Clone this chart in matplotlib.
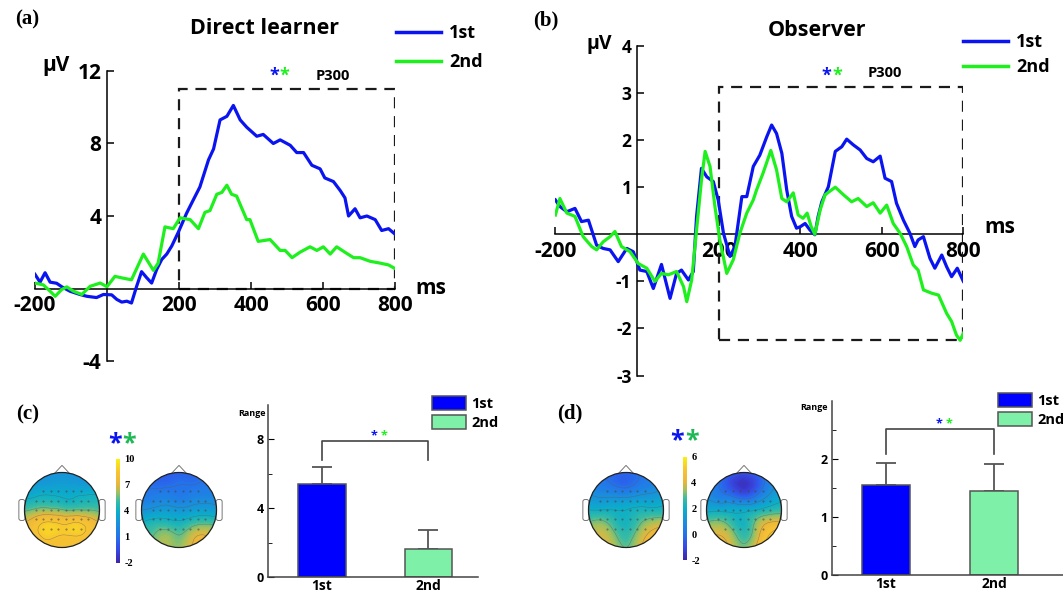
import matplotlib
matplotlib.use('Agg')
import matplotlib.pyplot as plt
import matplotlib.tri as mtri
from matplotlib.colors import LinearSegmentedColormap, Normalize
from matplotlib.cm import ScalarMappable
from matplotlib.patches import Circle, Polygon, FancyBboxPatch, Patch, Rectangle
from matplotlib.lines import Line2D
import numpy as np

plt.rcParams['font.family'] = ['Open Sans', 'DejaVu Sans']
plt.rcParams['font.weight'] = 'bold'
plt.rcParams['axes.linewidth'] = 1.1
plt.rcParams['axes.unicode_minus'] = False

W, H = 1063, 593

# ---- ERP waveforms (ms, microvolts) ----
a_first_t = [-200, -186, -172, -158, -140, -126, -103, -75, -56, -29, -10, 13, 27, 41, 55, 68, 82, 96,
             110, 124, 138, 152, 166, 180, 198, 221, 240, 258, 282, 296, 314, 333, 351, 370, 388, 416,
             434, 462, 481, 509, 527, 546, 569, 592, 605, 629, 648, 661, 671, 689, 703, 722, 745, 763,
             782, 800]
a_first_v = [0.78, 0.35, 0.87, 0.35, 0.29, 0.1, -0.15, -0.33, -0.43, -0.5, -0.33, -0.35, -0.6, -0.75,
             -0.7, -0.8, 0.1, 0.93, 0.6, 0.3, 1.05, 1.6, 1.9, 2.35, 3.1, 4.15, 4.9, 5.6, 7.1, 7.7, 9.3,
             9.5, 10.1, 9.3, 8.9, 8.4, 8.5, 8.0, 8.2, 7.9, 7.5, 7.5, 6.8, 6.6, 6.1, 5.9, 5.4, 5.0, 4.0,
             4.4, 3.9, 4.0, 3.8, 3.2, 3.3, 3.0]
a_second_t = [-200, -177, -158, -144, -126, -112, -93, -70, -47, -19, 0, 22, 45, 68, 101, 129, 142,
              161, 184, 203, 231, 254, 272, 286, 305, 319, 333, 346, 360, 388, 397, 420, 453, 481, 495,
              514, 536, 564, 583, 601, 620, 638, 661, 685, 703, 731, 759, 782, 800]
a_second_v = [0.3, 0.2, -0.15, -0.43, -0.06, 0.09, -0.15, -0.33, 0.12, 0.3, 0.1, 0.67, 0.57, 0.48, 1.9,
              1.0, 1.4, 3.4, 3.3, 3.9, 3.8, 3.3, 4.2, 4.3, 5.2, 5.3, 5.7, 5.2, 5.1, 3.8, 3.8, 2.6, 2.7,
              2.1, 2.1, 1.7, 2.0, 2.3, 2.1, 2.3, 1.9, 2.3, 2.0, 1.7, 1.7, 1.5, 1.4, 1.3, 1.1]

b_first_t = [-200, -189, -172, -152, -136, -119, -99, -83, -66, -46, -25, -9, 7, 24, 40, 60, 81, 97, 109,
             126, 138, 146, 158, 171, 187, 199, 212, 228, 240, 257, 269, 285, 301, 318, 330, 342, 355,
             367, 379, 391, 400, 412, 424, 436, 444, 453, 469, 486, 502, 514, 530, 547, 563, 579, 596,
             608, 624, 636, 653, 669, 681, 689, 702, 718, 730, 747, 759, 771, 785, 800]
b_first_v = [0.73, 0.59, 0.48, 0.55, 0.27, 0.3, -0.23, -0.3, -0.33, -0.58, -0.3, -0.37, -0.76, -0.79,
             -1.15, -0.64, -1.36, -0.83, -0.76, -0.97, -0.79, 0.38, 1.4, 1.22, 1.12, 0.73, 0.02, -0.47,
             -0.26, 0.8, 0.8, 1.44, 1.68, 2.07, 2.32, 2.14, 1.72, 0.94, 0.38, 0.13, 0.16, 0.23, 0.09,
             -0.01, 0.38, 0.69, 1.01, 1.76, 1.86, 2.02, 1.9, 1.79, 1.61, 1.54, 1.66, 1.19, 1.12, 0.66,
             0.3, 0.02, -0.26, -0.12, -0.05, -0.51, -0.72, -0.44, -0.69, -0.9, -0.72, -1.0]
b_second_t = [-200, -189, -172, -152, -132, -111, -99, -83, -66, -54, -38, -17, 3, 24, 44, 60, 77, 97,
              114, 122, 134, 146, 158, 167, 179, 191, 203, 220, 236, 252, 269, 285, 293, 309, 328, 342,
              355, 367, 383, 395, 407, 417, 427, 436, 449, 461, 486, 506, 526, 542, 563, 579, 596, 612,
              628, 645, 661, 677, 689, 702, 722, 739, 759, 771, 783, 792, 800]
b_second_v = [0.41, 0.76, 0.45, 0.38, -0.05, -0.26, -0.33, -0.16, -0.05, 0.06, -0.26, -0.37, -0.62,
              -0.72, -1.0, -0.83, -0.86, -0.79, -1.11, -1.43, -0.97, 0.09, 1.15, 1.76, 1.44, 0.59, -0.12,
              -0.83, -0.54, 0.02, 0.45, 0.73, 0.94, 1.3, 1.78, 1.37, 0.76, 0.69, 0.88, 0.41, 0.34, 0.45,
              0.16, 0.0, 0.52, 0.84, 1.0, 0.84, 0.69, 0.76, 0.59, 0.67, 0.45, 0.62, 0.23, 0.02, -0.26,
              -0.65, -0.76, -1.18, -1.25, -1.29, -1.68, -1.85, -2.14, -2.25, -2.1]

# ---- bar charts ----
bar_labels = ['1st', '2nd']
c_means = [5.4, 1.65]
c_errs = [1.0, 1.1]
d_means = [1.56, 1.45]
d_errs = [0.37, 0.47]

# ---- scalp maps (front row first, left to right) ----
c_topo_1st = [[2.4, 2.5, 2.6, 2.7, 2.6, 2.5, 2.4],
              [2.8, 3.0, 3.1, 3.2, 3.1, 3.0, 2.9],
              [3.8, 4.1, 4.2, 4.0, 4.0, 4.2, 4.2],
              [5.3, 5.8, 5.9, 5.6, 5.5, 5.5, 5.3],
              [7.0, 8.0, 8.6, 8.3, 8.5, 8.0, 7.0],
              [7.5, 8.3, 8.8, 8.5, 8.6, 8.2, 7.5],
              [7.6, 8.0, 8.2, 8.0, 8.0, 7.8, 7.6]]
c_topo_2nd = [[0.5, 0.2, 0.0, 0.3, 0.5, 0.8, 1.0],
              [1.0, 0.8, 0.8, 1.0, 1.0, 1.2, 1.3],
              [1.5, 1.6, 1.8, 1.5, 1.8, 2.0, 2.0],
              [2.5, 2.8, 3.0, 2.8, 3.0, 3.2, 3.0],
              [4.0, 4.5, 4.5, 4.2, 4.8, 5.2, 5.0],
              [5.0, 5.5, 6.0, 5.5, 6.5, 7.0, 6.5],
              [5.5, 6.0, 6.2, 6.0, 7.0, 7.2, 6.8]]
d_topo_1st = [[0.5, 0.2, -0.2, -0.3, 0.0, 0.3, 0.6],
              [0.7, 0.3, 0.0, -0.2, 0.2, 0.5, 0.8],
              [1.2, 1.0, 1.0, 1.0, 1.2, 1.3, 1.5],
              [2.0, 2.0, 2.0, 2.0, 2.2, 2.2, 2.3],
              [3.0, 3.2, 2.6, 2.2, 2.8, 3.4, 3.6],
              [3.6, 3.8, 3.2, 2.6, 3.4, 4.2, 4.6],
              [3.8, 4.0, 3.6, 3.0, 3.8, 4.6, 5.0]]
d_topo_2nd = [[0.5, 0.0, -0.5, -0.8, -0.3, 0.5, 1.0],
              [0.7, 0.0, -1.0, -1.6, -0.8, 0.5, 1.3],
              [1.0, 0.5, 0.2, -0.3, 0.3, 1.2, 1.8],
              [1.8, 1.8, 1.8, 1.8, 2.0, 2.4, 2.6],
              [3.0, 3.2, 2.6, 2.2, 3.2, 4.0, 4.2],
              [3.8, 4.0, 3.4, 2.6, 3.6, 5.0, 5.6],
              [4.0, 4.2, 3.8, 3.2, 4.2, 5.6, 6.0]]

BLUE = '#0a14f0'
GREEN = '#1ef01e'
BAR_BLUE = '#0000ff'
BAR_GREEN = '#7ff0a8'
STAR_GREEN = '#1db954'

parula = LinearSegmentedColormap.from_list(
    'parula', [(0.0, '#3d26a8'), (0.13, '#3548e8'), (0.25, '#2472ec'), (0.40, '#1696d8'),
               (0.50, '#0aafc8'), (0.60, '#3cbca0'), (0.68, '#a2c05c'), (0.76, '#eab63a'),
               (0.88, '#f8c431'), (1.0, '#f7f20f')])

fig = plt.figure(figsize=(W / 100, H / 100), dpi=100)


def px_axes(x0, y0, x1, y1):
    return fig.add_axes([x0 / W, 1 - y1 / H, (x1 - x0) / W, (y1 - y0) / H])


def ftext(x, y, s, **kw):
    return fig.text(x / W, 1 - y / H, s, **kw)


def erp_panel(box, ylim, yticks, t1, v1, t2, v2, rect_y, xsize, ysize):
    ax = px_axes(*box)
    ax.plot(t1, v1, color=BLUE, lw=2.3, zorder=3)
    ax.plot(t2, v2, color=GREEN, lw=2.3, zorder=3)
    ax.set_xlim(-200, 800)
    ax.set_ylim(*ylim)
    for s in ['top', 'right']:
        ax.spines[s].set_visible(False)
    ax.spines['left'].set_position(('data', 0))
    ax.spines['bottom'].set_position(('data', 0))
    ax.set_xticks([-200, 200, 400, 600, 800])
    ax.set_yticks(yticks)
    ax.tick_params(axis='x', direction='in', length=5, width=1.1, labelsize=xsize, pad=5)
    ax.tick_params(axis='y', direction='in', length=5, width=1.1, labelsize=ysize, pad=4)
    ax.patch.set_visible(False)
    ax.add_patch(Rectangle((200, rect_y[0]), 600, rect_y[1] - rect_y[0], fill=False,
                           ls=(0, (5, 3.5)), lw=1.6, ec='#1a1a1a', zorder=2))
    return ax


# (a) Direct learner
ax_a = erp_panel((35, 71, 395, 361), (-4, 12), [-4, 4, 8, 12],
                 a_first_t, a_first_v, a_second_t, a_second_v, (0, 11), 15, 15)
ax_a.text(465, 11.75, '*', color=BLUE, fontsize=13, ha='center', va='center')
ax_a.text(493, 11.75, '*', color=GREEN, fontsize=13, ha='center', va='center')
ax_a.text(628, 11.75, 'P300', fontsize=10.5, ha='center', va='center')
ftext(265, 28, 'Direct learner', fontsize=15.5, ha='center', va='center')
ftext(56, 66, 'µV', fontsize=15, ha='center', va='center')
ftext(431, 289, 'ms', fontsize=15, ha='center', va='center')
ftext(27, 19, '(a)', fontsize=15, ha='center', va='center', family='Liberation Serif')
ax_a.legend(handles=[Line2D([], [], color=BLUE, lw=2.5, label='1st'),
                     Line2D([], [], color=GREEN, lw=2.5, label='2nd')],
            loc='upper left', bbox_to_anchor=(396 / W, 1 - 24 / H), bbox_transform=fig.transFigure,
            frameon=False, fontsize=13, handlelength=2.5, handletextpad=0.45,
            labelspacing=0.6, borderpad=0, borderaxespad=0)

# (b) Observer
ax_b = erp_panel((555.4, 45.9, 963.4, 375.6), (-3, 4), [-3, -2, -1, 1, 2, 3, 4],
                 b_first_t, b_first_v, b_second_t, b_second_v, (-2.25, 3.12), 15, 12.5)
ax_b.text(464, 3.36, '*', color=BLUE, fontsize=13, ha='center', va='center')
ax_b.text(490, 3.36, '*', color=GREEN, fontsize=13, ha='center', va='center')
ax_b.text(608, 3.42, 'P300', fontsize=10.5, ha='center', va='center')
ftext(817, 30, 'Observer', fontsize=15.5, ha='center', va='center')
ftext(599, 44, 'µV', fontsize=14, ha='center', va='center')
ftext(1000, 228, 'ms', fontsize=15, ha='center', va='center')
ftext(546, 20, '(b)', fontsize=15, ha='center', va='center', family='Liberation Serif')
ax_b.legend(handles=[Line2D([], [], color=BLUE, lw=2.5, label='1st'),
                     Line2D([], [], color=GREEN, lw=2.5, label='2nd')],
            loc='upper left', bbox_to_anchor=(963 / W, 1 - 33 / H), bbox_transform=fig.transFigure,
            frameon=False, fontsize=13, handlelength=2.5, handletextpad=0.45,
            labelspacing=0.4, borderpad=0, borderaxespad=0)


def topomap(cx, cy, grid, vmin, vmax, step):
    ax = px_axes(cx - 50, cy - 50, cx + 50, cy + 50)
    ax.set_xlim(-1.333, 1.333)
    ax.set_ylim(-1.333, 1.333)
    ax.axis('off')
    grid = np.asarray(grid, dtype=float)
    g = np.linspace(-1, 1, grid.shape[0])
    X, Y = np.meshgrid(g, g[::-1])
    tri = mtri.Triangulation(X.ravel(), Y.ravel())
    tr, zr = mtri.UniformTriRefiner(tri).refine_field(grid.ravel(), subdiv=4)
    clip = Circle((0, 0), 1, transform=ax.transData)
    cf = ax.tricontourf(tr, zr, levels=np.linspace(vmin, vmax, 80), cmap=parula,
                        vmin=vmin, vmax=vmax, extend='both')
    cf.set_clip_path(clip)
    cl = ax.tricontour(tr, zr, levels=np.arange(vmin + step, vmax, step), colors='#5a5a5a',
                       linewidths=0.35, alpha=0.6)
    cl.set_clip_path(clip)
    # electrodes
    for yy in [0.5, 0.25, 0.0, -0.25, -0.5]:
        for xx in np.linspace(-0.7, 0.7, 8):
            if xx ** 2 + yy ** 2 < 0.72:
                ax.plot(xx, yy, 'o', ms=0.45, color='#444444', alpha=0.7, zorder=4)
    ax.add_patch(Circle((0, 0), 1, fill=False, ec='#222222', lw=0.9, zorder=5))
    ax.add_patch(Polygon([(-0.2, 0.975), (0, 1.19), (0.2, 0.975)], closed=False, fill=False,
                         ec='#777777', lw=0.7, zorder=1))
    for sx in (-1, 1):
        x0 = -1.14 if sx < 0 else 1.0
        ax.add_patch(FancyBboxPatch((x0 + 0.02, -0.25), 0.1, 0.5,
                                    boxstyle='round,pad=0.03,rounding_size=0.06',
                                    fill=False, ec='#777777', lw=0.7, zorder=1))
    return ax


def colorbar(box, vmin, vmax, ticks):
    cax = px_axes(*box)
    cb = fig.colorbar(ScalarMappable(Normalize(vmin, vmax), parula), cax=cax, ticks=ticks)
    cb.outline.set_visible(False)
    cax.tick_params(length=0, pad=3, labelsize=7.5)
    for lab in cax.get_yticklabels():
        lab.set_family('Liberation Serif')
    return cb


def bar_panel(box, means, errs, ylim, major, minor, xlim, bracket, star_y, leg_px, range_px):
    ax = px_axes(*box)
    pos = np.arange(len(means))
    ax.bar(pos, means, width=0.45, color=[BAR_BLUE, BAR_GREEN], edgecolor='#555555', lw=1.1,
           zorder=2)
    ax.errorbar(pos, means, yerr=[np.zeros(len(errs)), errs], fmt='none', ecolor='#555555',
                elinewidth=1.3, capsize=7, capthick=1.3, zorder=1)
    ax.set_xlim(*xlim)
    ax.set_ylim(*ylim)
    ax.set_xticks(pos)
    ax.set_xticklabels(bar_labels)
    ax.set_yticks(major)
    ax.set_yticks(minor, minor=True)
    for s in ['top', 'right']:
        ax.spines[s].set_visible(False)
    ax.spines['left'].set_color('#444444')
    ax.spines['bottom'].set_color('#444444')
    ax.tick_params(axis='x', length=0, pad=1.5, labelsize=10)
    ax.tick_params(axis='y', which='major', direction='in', length=4, labelsize=9, pad=3)
    ax.tick_params(axis='y', which='minor', direction='in', length=3)
    top, leg = bracket
    ax.plot([0, 0, 1, 1], [leg, top, top, leg], color='#444444', lw=1.2, clip_on=False)
    ax.text(0.49, star_y, '*', color=BLUE, fontsize=9, ha='center', va='center')
    ax.text(0.58, star_y, '*', color=GREEN, fontsize=9, ha='center', va='center')
    ax.legend(handles=[Patch(fc=BAR_BLUE, ec='#555555', lw=1.1, label='1st'),
                       Patch(fc=BAR_GREEN, ec='#555555', lw=1.1, label='2nd')],
              loc='upper left', bbox_to_anchor=(leg_px[0] / W, 1 - leg_px[1] / H),
              bbox_transform=fig.transFigure, frameon=False, fontsize=10.5,
              handlelength=2.35, handleheight=1.1, handletextpad=0.35, labelspacing=0.25,
              borderpad=0, borderaxespad=0)
    ftext(range_px[0], range_px[1], 'Range', fontsize=6.5, ha='center', va='center')
    return ax


# (c)
ftext(28, 414, '(c)', fontsize=15, ha='center', va='center', family='Liberation Serif')
topomap(62, 510, c_topo_1st, -2, 10, 1.5)
topomap(179, 510, c_topo_2nd, -2, 10, 1.5)
colorbar((116, 459, 120, 563), -2, 10, [-2, 1, 4, 7, 10])
ftext(115, 444, '*', color=BLUE, fontsize=18, ha='center', va='center')
ftext(129, 444, '*', color=STAR_GREEN, fontsize=18, ha='center', va='center')
bar_panel((268, 405, 478, 577), c_means, c_errs, (0, 10), [0, 4, 8], [2, 6],
          (-0.507, 1.465), (7.9, 6.8), 8.2, (432, 396), (252, 414))

# (d)
ftext(570, 413, '(d)', fontsize=15, ha='center', va='center', family='Liberation Serif')
topomap(626, 510, d_topo_1st, -2, 6, 1.0)
topomap(744, 510, d_topo_2nd, -2, 6, 1.0)
colorbar((683, 457, 687, 560), -2, 6, [-2, 0, 2, 4, 6])
ftext(677, 441, '*', color=BLUE, fontsize=18, ha='center', va='center')
ftext(692, 441, '*', color=STAR_GREEN, fontsize=18, ha='center', va='center')
bar_panel((832, 401, 1063, 575), d_means, d_errs, (0, 3), [0, 1, 2], [0.5, 1.5, 2.5],
          (-0.5, 1.64), (2.52, 2.09), 2.6, (998, 393), (814, 407))

fig.savefig('out.png', dpi=100)
